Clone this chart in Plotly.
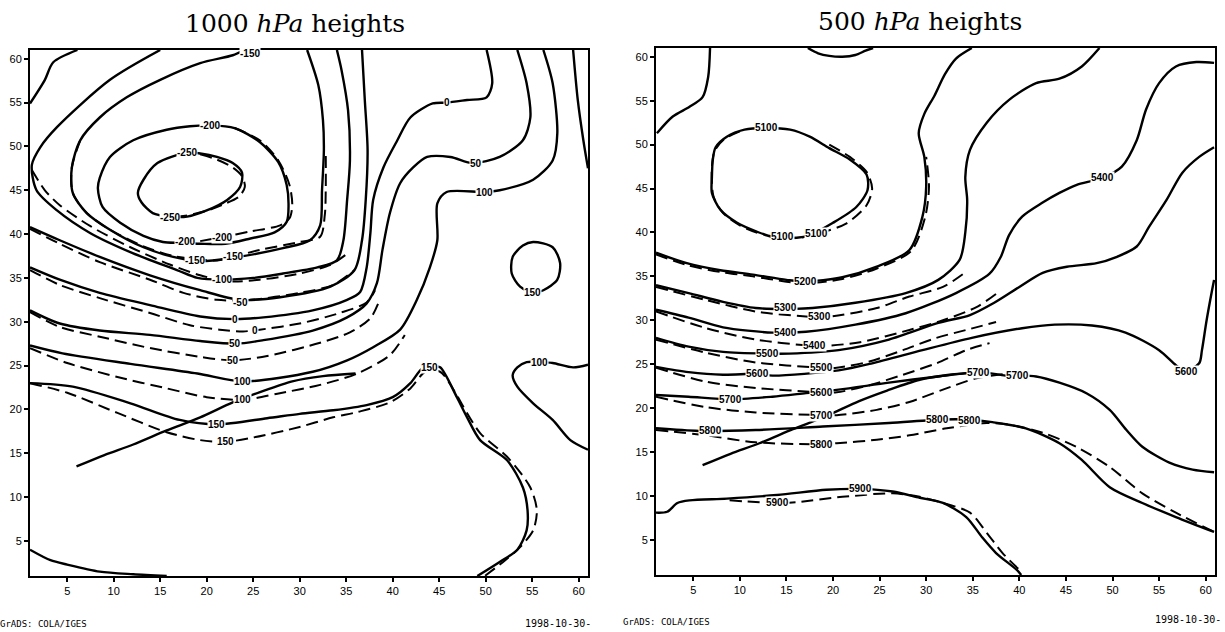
import plotly.graph_objects as go

AX_RANGE = [1, 61]
TICKS = [5, 10, 15, 20, 25, 30, 35, 40, 45, 50, 55, 60]

# cross-section path (same on both panels)
section_x = [6.0, 9.0, 12.1, 15.7, 19.3, 22.8, 25.8, 29.2, 32.5, 36.0]
section_y = [13.5, 14.8, 16.0, 17.6, 19.1, 20.8, 22.0, 23.2, 23.8, 24.1]

# ---------------- 1000 hPa : solid contours ----------------
h1_m250_x = [17.9, 14.7, 13.2, 12.6, 13.0, 14.2, 16.1, 17.9, 20.0, 22.2, 23.6, 23.8, 22.8, 21.1, 19.3, 17.9]
h1_m250_y = [49.3, 48.1, 46.2, 44.7, 43.6, 42.4, 42.0, 42.0, 42.7, 43.9, 45.4, 47.0, 48.1, 48.8, 49.2, 49.3]
h1_m200_x = [20.4, 23.0, 25.7, 27.7, 28.6, 28.8, 28.6, 27.3, 24.7, 22.0, 19.3, 17.1, 15.3, 13.2, 10.7, 8.8, 8.3, 8.5, 9.6, 12.1, 15.7, 18.2, 20.4]
h1_m200_y = [52.4, 52.1, 50.5, 48.2, 45.6, 43.3, 41.4, 40.2, 39.5, 38.9, 38.9, 39.0, 39.1, 39.8, 41.3, 43.1, 45.2, 46.4, 48.8, 50.7, 51.9, 52.3, 52.4]
h1_m150_x = [24.1, 22.8, 19.3, 15.0, 11.4, 8.5, 6.4, 5.5, 5.6, 7.1, 9.6, 13.2, 16.4, 19.3, 22.8, 28.2, 31.1, 32.2, 32.4, 32.6, 32.5, 32.0, 30.8]
h1_m150_y = [61.0, 60.4, 59.5, 57.6, 55.6, 53.3, 50.7, 47.6, 44.7, 42.4, 40.5, 38.5, 37.4, 36.9, 37.3, 38.4, 39.3, 41.0, 45.0, 49.6, 53.0, 57.0, 61.0]
h1_m100_x = [15.0, 9.6, 3.9, 2.1, 1.2, 1.7, 3.9, 7.5, 12.1, 16.8, 19.0, 21.6, 25.0, 28.2, 31.9, 34.0, 34.7, 35.1, 35.4, 35.2, 34.5, 34.0]
h1_m100_y = [61.0, 57.6, 52.2, 49.9, 47.9, 45.0, 42.7, 40.1, 37.8, 35.9, 35.0, 34.8, 35.0, 35.5, 36.2, 37.0, 39.3, 43.9, 48.4, 54.1, 58.7, 61.0]
h1_m50a_x = [1.0, 2.6, 3.5, 6.1]
h1_m50a_y = [54.9, 57.6, 59.6, 61.0]
h1_m50b_x = [1.0, 4.2, 8.5, 13.9, 19.3, 23.6, 27.9, 33.3, 35.9, 36.7, 37.1, 37.3, 37.0, 36.7]
h1_m50b_y = [40.8, 39.3, 37.4, 35.3, 33.6, 32.5, 32.8, 34.0, 35.9, 39.3, 43.9, 49.6, 55.3, 61.0]
h1_0_x = [1.0, 4.2, 8.5, 13.9, 19.3, 23.0, 26.1, 31.4, 35.1, 36.5, 37.2, 37.6, 37.9, 39.0, 40.5, 41.9, 44.3, 45.8, 48.0, 50.1, 50.7, 50.1]
h1_0_y = [36.2, 34.8, 33.3, 31.9, 30.6, 30.3, 30.5, 31.3, 32.5, 33.4, 36.2, 40.1, 43.9, 47.6, 50.7, 53.3, 54.9, 55.0, 55.3, 55.6, 57.2, 61.0]
h1_p50_x = [1.0, 4.2, 8.5, 13.9, 19.3, 23.2, 26.1, 31.4, 35.1, 37.2, 38.3, 38.9, 39.7, 40.8, 42.2, 43.7, 46.2, 48.6, 51.5, 54.0, 54.8, 54.4, 53.4]
h1_p50_y = [31.3, 29.8, 29.0, 28.5, 27.8, 27.5, 27.9, 29.0, 30.5, 32.1, 34.4, 38.2, 42.4, 45.8, 47.6, 48.8, 48.8, 48.1, 48.8, 50.7, 53.3, 57.2, 61.0]
h1_p100_x = [1.0, 4.5, 11.8, 19.0, 23.9, 31.4, 35.1, 37.9, 40.8, 42.6, 44.0, 44.8, 44.8, 45.8, 49.9, 51.5, 55.1, 57.2, 57.7, 57.2, 56.2]
h1_p100_y = [27.3, 26.4, 25.2, 24.1, 23.2, 24.3, 25.6, 27.1, 29.1, 32.5, 36.2, 39.3, 43.5, 44.8, 44.8, 45.0, 46.2, 48.4, 51.5, 57.2, 61.0]
h1_p100ne_x = [59.4, 59.9, 60.5, 61.0]
h1_p100ne_y = [61.0, 55.3, 50.7, 47.5]
h1_p100se_x = [61.0, 59.4, 57.2, 55.8, 54.4, 53.4, 52.9, 53.4, 55.1, 57.2, 59.1, 61.0]
h1_p100se_y = [25.1, 24.8, 25.3, 25.4, 25.4, 24.8, 23.9, 22.6, 20.7, 18.8, 16.5, 15.4]
h1_p150_x = [1.0, 5.6, 11.8, 17.1, 21.1, 26.5, 30.0, 33.6, 37.2, 40.0, 41.9, 43.2, 44.3, 45.1, 46.9, 48.0, 49.4, 52.3, 54.0, 54.5, 54.4, 53.4, 51.5, 49.1]
h1_p150_y = [23.0, 22.6, 20.7, 18.8, 18.3, 19.0, 19.5, 19.9, 20.5, 21.4, 23.0, 24.7, 24.9, 24.8, 21.4, 19.1, 16.5, 14.2, 11.1, 8.5, 6.2, 4.0, 2.6, 1.0]
h1_p150loop_x = [55.1, 57.2, 58.0, 57.7, 56.2, 55.1, 53.7, 52.8, 52.9, 54.0, 55.1]
h1_p150loop_y = [39.1, 38.5, 36.7, 34.8, 33.6, 33.3, 34.0, 35.5, 37.4, 38.7, 39.1]
h1_p200_x = [1.0, 3.2, 5.0, 8.5, 12.1, 15.7]
h1_p200_y = [4.0, 2.8, 2.3, 1.5, 1.2, 1.0]

# ---------------- 1000 hPa : dashed contours ----------------
h1d_m250_x = [19.3, 21.1, 22.8, 23.8, 24.1, 23.5, 21.8, 19.8, 17.7, 16.1]
h1d_m250_y = [49.1, 48.5, 47.6, 46.6, 45.4, 44.3, 43.4, 42.6, 42.1, 41.9]
h1d_m200_x = [23.0, 25.7, 27.7, 28.9, 29.2, 28.9, 27.9, 24.7, 21.4, 19.3]
h1d_m200_y = [52.1, 50.7, 48.4, 45.6, 43.3, 41.8, 41.0, 40.3, 39.6, 39.2]
h1d_m150_x = [6.4, 5.5, 5.6, 7.1, 9.6, 13.2, 16.4, 19.3, 21.1, 25.7, 30.0, 32.2, 32.7, 32.8, 32.8]
h1d_m150_y = [50.7, 47.6, 44.7, 42.4, 40.5, 38.6, 37.5, 37.1, 37.0, 38.2, 39.1, 39.7, 42.2, 45.0, 49.6]
h1d_m100_x = [1.2, 2.6, 4.2, 7.5, 11.8, 16.1, 19.3, 22.5, 25.7, 30.0, 33.3, 34.9]
h1d_m100_y = [47.3, 45.0, 43.3, 40.9, 38.5, 36.5, 35.3, 34.6, 34.8, 35.5, 36.5, 37.6]
h1d_m50_x = [1.0, 4.2, 8.5, 13.9, 17.5, 21.1, 24.7, 30.0, 33.6, 35.9]
h1d_m50_y = [40.6, 38.9, 36.8, 34.8, 33.3, 32.5, 32.5, 33.3, 34.2, 35.9]
h1d_0_x = [1.0, 4.2, 8.5, 13.9, 18.2, 21.4, 23.9, 25.7, 30.0, 34.3, 37.2, 38.1]
h1d_0_y = [35.9, 34.2, 32.7, 31.0, 29.6, 29.1, 28.9, 29.1, 29.8, 31.0, 32.2, 33.6]
h1d_p50_x = [1.0, 4.2, 8.5, 13.9, 19.3, 22.8, 26.5, 32.2, 35.4, 37.6, 38.6]
h1d_p50_y = [31.1, 29.4, 28.3, 27.0, 26.0, 25.6, 26.1, 27.6, 28.8, 30.4, 32.5]
h1d_p100_x = [1.0, 5.0, 10.4, 15.7, 20.0, 23.9, 27.6, 32.2, 36.2, 39.7, 41.3]
h1d_p100_y = [27.0, 25.3, 23.7, 22.4, 21.4, 21.1, 21.8, 22.8, 24.1, 26.2, 28.5]
h1d_p150_x = [1.0, 5.0, 10.4, 15.7, 19.3, 22.0, 25.0, 30.0, 33.6, 36.2, 39.7, 41.9, 43.5, 45.1, 46.9, 47.6, 49.4, 52.3, 54.8, 55.5, 55.1, 53.7, 52.1, 49.9]
h1d_p150_y = [23.0, 21.9, 19.6, 17.4, 16.5, 16.3, 16.8, 18.0, 19.1, 19.7, 20.8, 22.4, 24.3, 24.3, 21.6, 20.3, 17.3, 14.6, 11.1, 8.5, 6.2, 4.3, 2.8, 1.0]

# ---------------- 1000 hPa : contour labels ----------------
h1_lab_text = ["-150", "-200", "-250", "-250", "-200", "-200", "-150", "-150", "-100", "-50",
               "0", "0", "50", "50", "100", "100", "150", "150",
               "0", "50", "100", "150", "150", "100"]
h1_lab_x = [24.7, 20.4, 17.9, 16.1, 17.7, 21.6, 18.7, 22.8, 21.6, 23.6,
            23.0, 25.2, 23.0, 22.8, 23.9, 23.9, 21.1, 22.0,
            45.8, 49.0, 49.9, 55.0, 44.0, 55.8]
h1_lab_y = [60.6, 52.4, 49.3, 41.9, 39.1, 39.6, 37.0, 37.4, 34.8, 32.2,
            30.3, 29.0, 27.5, 25.6, 23.2, 21.1, 18.3, 16.3,
            55.0, 48.1, 44.8, 33.3, 24.8, 25.4]

# ---------------- 500 hPa : solid contours ----------------
h5_nw_x = [6.8, 6.6, 6.0, 4.6, 2.8, 1.1]
h5_nw_y = [61.0, 57.7, 55.4, 54.3, 53.2, 51.3]
h5_top_x = [17.3, 18.4, 19.6, 21.0, 22.4, 23.5, 24.3]
h5_top_y = [61.0, 60.4, 60.1, 60.0, 60.2, 60.7, 61.0]
h5_5100_x = [12.9, 10.5, 8.6, 7.4, 7.1, 7.0, 7.0, 7.9, 9.7, 11.8, 13.5, 16.1, 17.5, 20.0, 22.5, 23.7, 23.6, 21.8, 19.6, 17.5, 15.4, 12.9]
h5_5100_y = [51.9, 51.7, 50.9, 49.7, 48.3, 46.3, 44.5, 42.6, 41.1, 40.1, 39.5, 39.4, 39.7, 41.1, 42.9, 44.8, 46.6, 48.3, 49.6, 50.9, 51.7, 51.9]
h5_5200_x = [1.0, 4.3, 7.9, 11.4, 15.0, 17.0, 21.0, 24.7, 28.2, 29.6, 30.0, 29.8, 29.2, 29.8, 30.9, 32.0, 33.2, 34.9]
h5_5200_y = [37.7, 36.5, 35.7, 35.2, 34.6, 34.4, 34.9, 36.1, 38.0, 41.8, 45.2, 48.6, 51.3, 53.5, 55.6, 58.0, 59.8, 61.0]
h5_5300_x = [1.0, 4.5, 8.2, 11.7, 15.9, 17.8, 22.4, 27.8, 31.3, 33.6, 34.2, 34.4, 34.2, 34.7, 36.5, 38.9, 41.8, 44.3, 46.7, 48.6]
h5_5300_y = [34.0, 33.1, 32.1, 31.4, 31.3, 31.4, 32.0, 33.1, 34.6, 36.9, 40.0, 43.7, 46.3, 49.4, 52.5, 55.1, 57.0, 57.5, 58.9, 61.0]
h5_5400_x = [1.0, 4.5, 8.2, 13.5, 17.1, 22.4, 27.8, 33.2, 36.8, 38.0, 38.9, 40.3, 42.5, 44.3, 46.1, 48.9, 51.0, 52.6, 53.6, 55.0, 56.8, 59.0, 60.9]
h5_5400_y = [31.2, 30.3, 29.2, 28.6, 28.7, 29.5, 30.8, 33.1, 35.3, 37.2, 39.7, 41.8, 43.4, 44.5, 45.4, 46.2, 47.5, 50.5, 54.0, 57.0, 58.9, 59.4, 59.3]
h5_5500_x = [1.0, 4.5, 8.2, 13.0, 15.3, 20.6, 26.0, 31.3, 34.7, 37.3, 40.0, 42.5, 45.1, 48.3, 50.4, 52.6, 53.9, 55.8, 57.5, 59.3, 60.9]
h5_5500_y = [28.0, 27.0, 26.4, 26.2, 26.2, 26.6, 27.8, 29.7, 30.6, 32.0, 33.8, 35.4, 36.1, 36.5, 37.2, 38.4, 40.6, 43.7, 46.8, 48.6, 49.7]
h5_5600_x = [1.0, 4.5, 8.2, 11.9, 13.5, 20.6, 24.2, 29.6, 34.9, 40.3, 43.8, 47.8, 51.4, 55.0, 56.8, 57.8, 59.3, 59.6, 60.1, 60.7, 60.9]
h5_5600_y = [24.7, 24.1, 23.8, 23.9, 23.7, 24.3, 25.1, 26.6, 28.0, 29.1, 29.5, 29.4, 28.6, 26.6, 24.9, 24.2, 25.1, 26.6, 30.0, 33.5, 34.6]
h5_5700_x = [1.0, 4.5, 9.0, 13.5, 17.1, 20.6, 26.0, 31.3, 35.8, 38.5, 39.8, 41.8, 44.3, 47.2, 49.7, 51.5, 53.2, 56.1, 58.6, 60.9]
h5_5700_y = [21.5, 21.3, 21.0, 21.3, 21.7, 22.1, 22.9, 23.6, 24.1, 23.7, 23.7, 23.6, 22.9, 21.7, 19.8, 17.5, 15.6, 13.8, 13.0, 12.7]
h5_5800_x = [1.0, 5.6, 11.7, 18.9, 26.0, 31.8, 34.3, 37.1, 40.7, 44.3, 46.7, 49.7, 53.2, 56.8, 60.9]
h5_5800_y = [17.7, 17.4, 17.5, 17.9, 18.3, 18.7, 18.7, 18.4, 17.7, 16.0, 14.1, 11.0, 9.2, 7.6, 5.9]
h5_5900_x = [1.0, 2.2, 3.3, 4.6, 8.6, 14.0, 19.3, 22.9, 26.4, 29.3, 31.8, 34.3, 36.0, 37.5, 39.7, 40.2]
h5_5900_y = [8.1, 8.2, 9.2, 9.5, 9.7, 10.1, 10.7, 10.8, 10.5, 9.8, 9.2, 7.6, 5.3, 3.5, 1.6, 1.0]

# ---------------- 500 hPa : dashed contours ----------------
h5d_5100a_x = [19.6, 21.8, 23.6, 24.2, 23.6, 21.4, 18.5, 16.1]
h5d_5100a_y = [50.0, 48.6, 46.9, 45.0, 43.1, 41.0, 39.9, 39.3]
h5d_5100b_x = [10.0, 8.3, 7.3, 7.0, 7.0, 7.2, 8.2, 10.0, 12.0]
h5d_5100b_y = [51.5, 50.6, 49.3, 47.5, 45.5, 44.0, 42.2, 40.8, 39.9]
h5d_5200_x = [1.0, 4.3, 7.9, 11.4, 15.0, 17.0, 21.0, 24.7, 28.4, 29.9, 30.3, 30.0]
h5d_5200_y = [37.5, 36.3, 35.5, 35.0, 34.4, 34.2, 34.7, 35.9, 37.9, 41.8, 45.2, 48.6]
h5d_5300_x = [1.0, 6.4, 11.7, 17.7, 19.5, 24.7, 28.2, 31.8, 34.0]
h5d_5300_y = [33.8, 32.3, 31.0, 30.4, 30.4, 31.4, 32.7, 33.8, 35.3]
h5d_5400_x = [1.0, 6.4, 11.7, 17.7, 19.3, 22.9, 28.2, 31.8, 35.4, 37.5]
h5d_5400_y = [31.0, 29.1, 27.8, 27.1, 27.1, 27.5, 28.9, 30.0, 31.5, 33.0]
h5d_5500_x = [1.0, 6.4, 11.7, 18.8, 20.4, 23.9, 27.5, 31.1, 34.3, 37.5]
h5d_5500_y = [27.8, 26.3, 25.2, 24.6, 24.6, 25.3, 26.6, 28.0, 28.9, 29.8]
h5d_5600_x = [1.0, 6.4, 11.7, 18.8, 20.4, 23.9, 27.5, 31.1, 34.3, 36.8]
h5d_5600_y = [24.6, 23.0, 22.3, 21.8, 21.8, 22.6, 23.8, 25.1, 26.6, 27.4]
h5d_5700_x = [1.0, 6.4, 11.7, 18.8, 20.4, 24.7, 28.2, 31.8, 35.4, 38.5]
h5d_5700_y = [21.3, 20.1, 19.5, 19.2, 19.2, 19.8, 20.7, 22.1, 23.4, 23.9]
h5d_5800_x = [1.0, 6.4, 11.7, 18.8, 20.4, 24.7, 28.2, 32.2, 36.5, 38.9, 42.5, 46.1, 49.7, 53.2, 56.8, 60.9]
h5d_5800_y = [17.5, 16.9, 16.1, 15.9, 16.0, 16.4, 16.9, 17.7, 18.3, 18.1, 17.2, 15.6, 13.3, 10.3, 8.1, 5.9]
h5d_5900_x = [8.9, 14.0, 16.1, 21.0, 26.4, 29.3, 31.8, 34.7, 36.5, 38.2, 40.0]
h5d_5900_y = [9.5, 9.2, 9.3, 9.9, 10.3, 9.9, 9.2, 8.1, 5.8, 3.5, 1.6]

# ---------------- 500 hPa : contour labels ----------------
h5_lab_text = ["5100", "5100", "5100", "5200", "5300", "5300", "5400", "5400", "5500", "5500",
               "5600", "5600", "5700", "5700", "5800", "5800", "5700", "5700", "5800", "5800",
               "5600", "5400", "5900", "5900"]
h5_lab_x = [12.9, 14.6, 18.2, 17.0, 14.9, 18.6, 14.9, 18.0, 13.0, 18.8,
            11.9, 18.8, 9.0, 18.8, 6.9, 18.8, 35.6, 39.8, 31.2, 34.6,
            57.9, 48.9, 22.9, 14.0]
h5_lab_y = [51.9, 39.5, 39.9, 34.4, 31.4, 30.4, 28.6, 27.1, 26.2, 24.6,
            23.9, 21.8, 21.0, 19.2, 17.4, 15.9, 24.1, 23.7, 18.7, 18.6,
            24.2, 46.2, 10.8, 9.2]

solid_1000 = [(h1_m250_x, h1_m250_y), (h1_m200_x, h1_m200_y), (h1_m150_x, h1_m150_y),
              (h1_m100_x, h1_m100_y), (h1_m50a_x, h1_m50a_y), (h1_m50b_x, h1_m50b_y),
              (h1_0_x, h1_0_y), (h1_p50_x, h1_p50_y), (h1_p100_x, h1_p100_y),
              (h1_p100ne_x, h1_p100ne_y), (h1_p100se_x, h1_p100se_y), (h1_p150_x, h1_p150_y),
              (h1_p150loop_x, h1_p150loop_y), (h1_p200_x, h1_p200_y), (section_x, section_y)]
dashed_1000 = [(h1d_m250_x, h1d_m250_y), (h1d_m200_x, h1d_m200_y), (h1d_m150_x, h1d_m150_y),
               (h1d_m100_x, h1d_m100_y), (h1d_m50_x, h1d_m50_y), (h1d_0_x, h1d_0_y),
               (h1d_p50_x, h1d_p50_y), (h1d_p100_x, h1d_p100_y), (h1d_p150_x, h1d_p150_y)]
solid_500 = [(h5_nw_x, h5_nw_y), (h5_top_x, h5_top_y), (h5_5100_x, h5_5100_y), (h5_5200_x, h5_5200_y),
             (h5_5300_x, h5_5300_y), (h5_5400_x, h5_5400_y), (h5_5500_x, h5_5500_y),
             (h5_5600_x, h5_5600_y), (h5_5700_x, h5_5700_y), (h5_5800_x, h5_5800_y),
             (h5_5900_x, h5_5900_y), (section_x, section_y)]
dashed_500 = [(h5d_5100a_x, h5d_5100a_y), (h5d_5100b_x, h5d_5100b_y), (h5d_5200_x, h5d_5200_y),
              (h5d_5300_x, h5d_5300_y), (h5d_5400_x, h5d_5400_y), (h5d_5500_x, h5d_5500_y),
              (h5d_5600_x, h5d_5600_y), (h5d_5700_x, h5d_5700_y), (h5d_5800_x, h5d_5800_y),
              (h5d_5900_x, h5d_5900_y)]

fig = go.Figure()


def add_lines(group, dash, xa, ya, width):
    for xs, ys in group:
        fig.add_trace(go.Scatter(
            x=xs, y=ys, mode="lines", xaxis=xa, yaxis=ya,
            line=dict(color="black", width=width, dash=dash, shape="spline", smoothing=0.8),
            hoverinfo="skip", showlegend=False))


add_lines(dashed_1000, "12px,6px", "x", "y", 2.0)
add_lines(solid_1000, "solid", "x", "y", 2.4)
add_lines(dashed_500, "12px,6px", "x2", "y2", 2.0)
add_lines(solid_500, "solid", "x2", "y2", 2.4)

lab_font = dict(family="Liberation Sans", size=10, color="black")
annotations = []
for t, x, y in zip(h1_lab_text, h1_lab_x, h1_lab_y):
    annotations.append(dict(x=x, y=y, xref="x", yref="y", text="<b>%s</b>" % t, showarrow=False,
                            font=lab_font, bgcolor="white", borderpad=0))
for t, x, y in zip(h5_lab_text, h5_lab_x, h5_lab_y):
    annotations.append(dict(x=x, y=y, xref="x2", yref="y2", text="<b>%s</b>" % t, showarrow=False,
                            font=lab_font, bgcolor="white", borderpad=0))

title_font = dict(family="DejaVu Serif", size=25, color="black")
annotations += [
    dict(x=295 / 1225, y=1 - 24 / 632, xref="paper", yref="paper", text="1000 <i>hPa</i> heights",
         showarrow=False, font=title_font, xanchor="center", yanchor="middle"),
    dict(x=920 / 1225, y=1 - 22 / 632, xref="paper", yref="paper", text="500 <i>hPa</i> heights",
         showarrow=False, font=title_font, xanchor="center", yanchor="middle"),
]
foot_font = dict(family="DejaVu Sans Mono", size=9, color="black")
annotations += [
    dict(x=-2 / 1225, y=1 - 624 / 632, xref="paper", yref="paper", text="GrADS: COLA/IGES",
         showarrow=False, font=foot_font, xanchor="left", yanchor="middle"),
    dict(x=593 / 1225, y=1 - 623 / 632, xref="paper", yref="paper", text="1998-10-30-",
         showarrow=False, font=dict(family="DejaVu Sans Mono", size=10, color="black"),
         xanchor="right", yanchor="middle"),
    dict(x=621 / 1225, y=1 - 622 / 632, xref="paper", yref="paper", text="GrADS: COLA/IGES",
         showarrow=False, font=foot_font, xanchor="left", yanchor="middle"),
    dict(x=1223 / 1225, y=1 - 619 / 632, xref="paper", yref="paper", text="1998-10-30-",
         showarrow=False, font=dict(family="DejaVu Sans Mono", size=10, color="black"),
         xanchor="right", yanchor="middle"),
]

axis_common = dict(range=AX_RANGE, tickvals=TICKS, ticks="outside", ticklen=4, tickwidth=1.5,
                   tickcolor="black", showline=True, linecolor="black", linewidth=2, mirror=True,
                   showgrid=False, zeroline=False,
                   tickfont=dict(family="Liberation Sans", size=11, color="black"))

fig.update_layout(
    width=1225, height=632, margin=dict(l=0, r=0, t=0, b=0),
    paper_bgcolor="white", plot_bgcolor="white", showlegend=False,
    xaxis=dict(domain=[30 / 1225, 588 / 1225], anchor="y", **axis_common),
    yaxis=dict(domain=[(632 - 576) / 632, (632 - 50) / 632], anchor="x", **axis_common),
    xaxis2=dict(domain=[656 / 1225, 1215 / 1225], anchor="y2", **axis_common),
    yaxis2=dict(domain=[(632 - 575) / 632, (632 - 48) / 632], anchor="x2", **axis_common),
    annotations=annotations,
)

fig.write_html("out.html")
